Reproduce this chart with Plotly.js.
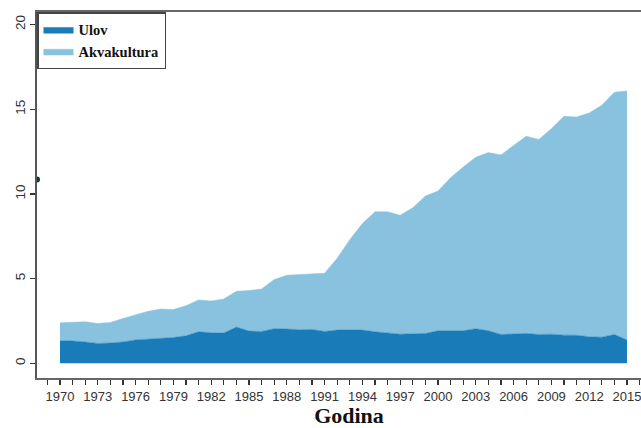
<!DOCTYPE html>
<html>
<head>
<meta charset="utf-8">
<script src="https://cdn.plot.ly/plotly-3.0.1.min.js"></script>
<style>html,body{margin:0;padding:0;overflow:hidden;background:#fff;}</style>
</head>
<body>
<div id="chart" style="width:661px;height:428px;"></div>
<script>
const years = [1970,1971,1972,1973,1974,1975,1976,1977,1978,1979,1980,1981,1982,1983,1984,1985,1986,1987,1988,1989,1990,1991,1992,1993,1994,1995,1996,1997,1998,1999,2000,2001,2002,2003,2004,2005,2006,2007,2008,2009,2010,2011,2012,2013,2014,2015];
const ulov = [1.32,1.32,1.26,1.17,1.20,1.26,1.38,1.42,1.50,1.52,1.62,1.86,1.80,1.78,2.14,1.90,1.88,2.04,2.02,1.98,2.00,1.88,1.96,1.96,1.96,1.86,1.78,1.72,1.74,1.76,1.92,1.92,1.92,2.04,1.92,1.70,1.72,1.76,1.70,1.72,1.66,1.66,1.56,1.54,1.70,1.38];
const akvakultura = [1.07,1.09,1.19,1.18,1.21,1.39,1.49,1.65,1.70,1.66,1.78,1.88,1.88,2.02,2.11,2.39,2.51,2.90,3.18,3.26,3.32,3.44,4.24,5.34,6.29,7.08,7.16,7.02,7.44,8.11,8.25,9.04,9.67,10.13,10.52,10.60,11.14,11.65,11.51,12.13,12.92,12.88,13.22,13.69,14.30,14.70];
const seriesNames = ['Ulov','Akvakultura'];
const yTickVals = [0,5,10,15,20];
const xTickVals = [1970,1973,1976,1979,1982,1985,1988,1991,1994,1997,2000,2003,2006,2009,2012,2015];
const strayDotX = [1968.175];
const strayDotY = [10.85];

const darkBlue = '#1a7bb9';
const lightBlue = '#89c2de';

const traces = [
  {x: years, y: ulov, name: seriesNames[0], type: 'scatter', mode: 'lines', stackgroup: 'one',
   line: {color: darkBlue, width: 0.5}, fillcolor: darkBlue, hoverinfo: 'skip'},
  {x: years, y: akvakultura, name: seriesNames[1], type: 'scatter', mode: 'lines', stackgroup: 'one',
   line: {color: lightBlue, width: 0.5}, fillcolor: lightBlue, hoverinfo: 'skip'},
  {x: strayDotX, y: strayDotY, type: 'scatter', mode: 'markers', showlegend: false, cliponaxis: true,
   marker: {color: '#1b2f5e', size: 6}, hoverinfo: 'skip'}
];

const layout = {
  width: 661, height: 428,
  margin: {l: 37, r: 0, t: 12, b: 50},
  paper_bgcolor: '#fff', plot_bgcolor: '#fff',
  showlegend: true,
  legend: {
    x: 0, y: 1, xanchor: 'left', yanchor: 'top', traceorder: 'normal',
    bgcolor: '#fff', bordercolor: '#444', borderwidth: 1.5,
    font: {family: 'Liberation Serif', size: 14.5, color: '#111', weight: 'bold'},
    tracegroupgap: 0, itemwidth: 30
  },
  xaxis: {
    range: [1968.175, 2017.70],
    tickvals: xTickVals, ticktext: xTickVals.map(String),
    ticks: 'outside', ticklen: 5, tickwidth: 1.2, tickcolor: '#333',
    minor: {dtick: 1, tick0: 1970, ticks: 'outside', ticklen: 5, tickwidth: 1.2, tickcolor: '#333', showgrid: false},
    showgrid: false, zeroline: false,
    showline: true, linecolor: '#666', linewidth: 2, mirror: true,
    tickfont: {family: 'Liberation Sans', size: 13, color: '#333'},
    title: {text: '<b>Godina</b>', font: {family: 'Liberation Serif', size: 22, color: '#111'}, standoff: 8}
  },
  yaxis: {
    range: [-0.87, 20.74],
    tickvals: yTickVals, ticktext: yTickVals.map(String),
    tickangle: -90,
    ticks: 'outside', ticklen: 5, tickwidth: 1.2, tickcolor: '#333',
    showgrid: false, zeroline: false,
    showline: true, linecolor: '#555', linewidth: 2,
    tickfont: {family: 'Liberation Sans', size: 13.5, color: '#333'}
  }
};

Plotly.newPlot('chart', traces, layout, {displayModeBar: false, staticPlot: true});
</script>
</body>
</html>
